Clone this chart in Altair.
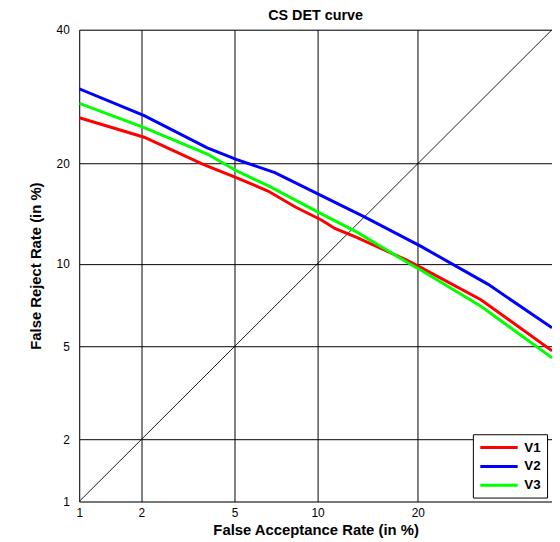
import altair as alt
import pandas as pd
from statistics import NormalDist

# ---- data (values in %) ----
series_names = ["V1", "V2", "V3"]
series_colors = ["#FF0000", "#0000FF", "#00FF00"]

v1_far = [1, 2.06, 3.73, 5.1, 6.7, 8.4, 10.3, 11.4, 13.3, 18.6, 20.4, 28.6, 40]
v1_frr = [26.1, 23.4, 19.9, 18.3, 16.8, 15.1, 13.8, 13.0, 12.2, 10.3, 9.7, 7.5, 4.8]

v2_far = [1, 2.06, 3.88, 5.1, 7.1, 10.3, 14.1, 20.4, 29.7, 40]
v2_frr = [30.4, 26.4, 22.0, 20.5, 18.9, 16.3, 14.1, 11.4, 8.5, 5.9]

v3_far = [1, 2.06, 3.88, 5.1, 6.7, 10.3, 13.3, 19.0, 20.4, 28.6, 40]
v3_frr = [28.2, 24.7, 21.2, 19.1, 17.4, 14.4, 12.7, 10.0, 9.5, 7.1, 4.5]

diag_vals = [1, 40]

x_ticks = [1, 2, 5, 10, 20]
y_ticks = [1, 2, 5, 10, 20, 40]
axis_limits = [1, 40]

# ---- tables ----
rows = []
for name, fa, fr in zip(series_names, [v1_far, v2_far, v3_far], [v1_frr, v2_frr, v3_frr]):
    for a, b in zip(fa, fr):
        rows.append({"series": name, "far": a, "frr": b})
df = pd.DataFrame(rows)
diag_df = pd.DataFrame({"far": diag_vals, "frr": diag_vals})

nd = NormalDist()
probit = lambda v: nd.inv_cdf(v / 100.0)
x_dom = [probit(v) for v in axis_limits]
y_dom = [probit(v) for v in axis_limits]

FONT = "Liberation Sans"
label_expr = "'' + round(cumulativeNormal(datum.value) * 100)"

x_axis = alt.Axis(
    values=[probit(v) for v in x_ticks], labelExpr=label_expr,
    title="False Acceptance Rate (in %)", grid=True, gridColor="black",
    gridOpacity=1, gridWidth=1, ticks=False, domain=False, labelFlush=False,
    labelFont=FONT, labelFontSize=12, labelColor="black", labelPadding=6,
    titleFont=FONT, titleFontSize=15, titleFontWeight="bold", titleColor="black",
    titlePadding=4,
)
y_axis = alt.Axis(
    values=[probit(v) for v in y_ticks], labelExpr=label_expr,
    title="False Reject Rate (in %)", grid=True, gridColor="black",
    gridOpacity=1, gridWidth=1, ticks=False, domain=False, labelFlush=False,
    labelFont=FONT, labelFontSize=12, labelColor="black", labelPadding=10,
    titleFont=FONT, titleFontSize=15, titleFontWeight="bold", titleColor="black",
    titlePadding=13,
)

xs = alt.Scale(domain=x_dom, nice=False, zero=False)
ys = alt.Scale(domain=y_dom, nice=False, zero=False)

calc = dict(zx="quantileNormal(datum.far / 100)", zy="quantileNormal(datum.frr / 100)")

diag = alt.Chart(diag_df).transform_calculate(**calc).mark_line(
    color="black", strokeWidth=0.9, clip=True
).encode(
    x=alt.X("zx:Q", scale=xs, axis=x_axis),
    y=alt.Y("zy:Q", scale=ys, axis=y_axis),
)

curves = alt.Chart(df).transform_calculate(**calc).mark_line(
    strokeWidth=3, clip=True
).encode(
    x=alt.X("zx:Q", scale=xs, axis=x_axis),
    y=alt.Y("zy:Q", scale=ys, axis=y_axis),
    color=alt.Color(
        "series:N",
        scale=alt.Scale(domain=series_names, range=series_colors),
        legend=alt.Legend(
            title=None, orient="none", legendX=398, legendY=409,
            symbolType="M-1,0H5.3", symbolSize=144, symbolStrokeWidth=3,
            labelFont=FONT, labelFontSize=13.5, labelFontWeight="bold",
            labelColor="black", labelOffset=31,
            strokeColor="black", fillColor="white", padding=6, rowPadding=5,
        ),
    ),
    order=alt.Order("far:Q"),
)

chart = alt.layer(diag, curves).properties(
    width=478, height=477,
    title=alt.TitleParams("CS DET curve", font=FONT, fontSize=14.5, fontWeight="bold",
                          color="black", anchor="middle", offset=0),
    autosize=alt.AutoSizeParams(type="none"),
    padding={"left": 72, "top": 19, "right": 0, "bottom": 40},
).configure_view(stroke="black", strokeWidth=2).configure(background="white")

chart.save("out.html", embed_options={"renderer": "svg", "actions": False})
